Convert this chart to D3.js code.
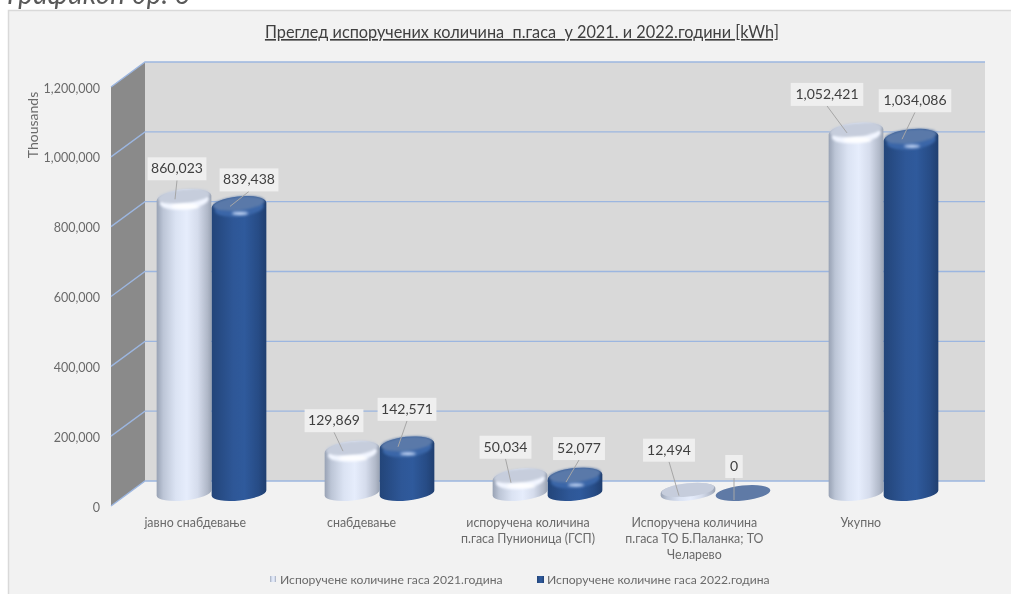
<!DOCTYPE html>
<html><head><meta charset="utf-8">
<script src="https://cdn.jsdelivr.net/npm/d3@7/dist/d3.min.js"></script>
<style>html,body{margin:0;padding:0;background:#fff}svg{display:block;filter:blur(0.35px)}text{font-family:Lato,"Open Sans","Noto Sans",sans-serif}</style>
</head><body><svg id="c" width="1011" height="594"></svg>
<script>
const categories = ["јавно снабдевање","снабдевање","испоручена количина\nп.гаса Пунионица (ГСП)","Испоручена количина\nп.гаса ТО Б.Паланка; ТО\nЧеларево","Укупно"];
const series2021 = [860023,129869,50034,12494,1052421];
const series2022 = [839438,142571,52077,0,1034086];
const seriesNames = ["Испоручене количине гаса 2021.година","Испоручене количине гаса 2022.година"];
const tickValues = [0,200000,400000,600000,800000,1000000,1200000];
const titleText = "Преглед испоручених количина  п.гаса  у 2021. и 2022.години [kWh]";
const pageCaption = "Графикон бр. 6";

const svg = d3.select("#c");
const W=1011,H=594;
const defs = svg.append("defs");
function grad(id,stops){const g=defs.append("linearGradient").attr("id",id).attr("x1",0).attr("x2",1).attr("y1",0).attr("y2",0);
  stops.forEach(s=>g.append("stop").attr("offset",s[0]).attr("stop-color",s[1]));}
grad("gW",[[0,"#98a2b4"],[.12,"#bcc5d6"],[.35,"#dbe3f3"],[.55,"#e6edfc"],[.75,"#d5dcec"],[.93,"#b0b8c8"],[1,"#9aa3b3"]]);
grad("gB",[[0,"#234579"],[.12,"#264a82"],[.4,"#2e5797"],[.6,"#2f5a9c"],[.85,"#274c86"],[1,"#203f70"]]);
defs.append("filter").attr("id","bl").attr("x","-50%").attr("y","-100%").attr("width","200%").attr("height","300%").append("feGaussianBlur").attr("stdDeviation",1.4);
defs.append("filter").attr("id","bl2").attr("x","-30%").attr("y","-50%").attr("width","160%").attr("height","200%").append("feGaussianBlur").attr("stdDeviation",0.9);

svg.append("rect").attr("x",8.5).attr("y",10.5).attr("width",W).attr("height",H).attr("fill","#f2f2f2").attr("stroke","#d9d9d9").attr("stroke-width",1.5);
svg.append("text").attr("x",7).attr("y",4).attr("font-size",28).attr("font-style","italic").attr("fill","#595959").text(pageCaption);

// geometry
const depthX=34, depthY=25, left=111, frontRight=951;
const y = d3.scaleLinear().domain([0,1200000]).range([506,87]);
const yBar = d3.scaleLinear().domain([0,1200000]).range([493,79]);
const xLabel = d3.scaleBand().domain(d3.range(categories.length)).range([112,944]);
const xBar = d3.scaleBand().domain(d3.range(categories.length)).range([127.5,967.5]);
const backL=left+depthX, backR=frontRight+depthX;

// walls
svg.append("rect").attr("x",backL).attr("y",y(1200000)-depthY).attr("width",backR-backL).attr("height",y(0)-y(1200000)).attr("fill","#d9d9d9");
svg.append("path").attr("d",`M${left},${y(1200000)}L${backL},${y(1200000)-depthY}L${backL},${y(0)-depthY}L${left},${y(0)}Z`).attr("fill","#8a8a8a");
// gridlines
svg.append("g").selectAll("path").data(tickValues).join("path")
 .attr("d",v=>`M${left},${y(v)}L${backL},${y(v)-depthY}L${backR},${y(v)-depthY}`)
 .attr("fill","none").attr("stroke","#9cb6e0").attr("stroke-width",1.4);

// axis
const ax = svg.append("g").attr("transform",`translate(${left-11},1)`).call(d3.axisLeft(y).tickValues(tickValues).tickFormat(d3.format(",")).tickSize(0).tickPadding(0));
ax.select(".domain").remove();
ax.selectAll("text").attr("font-size",12.5).attr("fill","#6a6a6a").style("font-family",'Lato,"Open Sans",sans-serif');
svg.append("text").attr("transform","translate(38,125) rotate(-90)").attr("text-anchor","middle").attr("font-size",14).attr("fill","#6a6a6a").text("Thousands");

svg.append("text").attr("x",522).attr("y",38).attr("text-anchor","middle").attr("font-size",16.3).attr("fill","#404040").attr("text-decoration","underline").style("white-space","pre").text(titleText);

// category labels
const cat = svg.append("g").selectAll("text").data(categories).join("text")
 .attr("text-anchor","middle").attr("font-size",12.4).attr("fill","#6a6a6a");
cat.each(function(d,i){
  d3.select(this).selectAll("tspan").data(d.split("\n")).join("tspan")
   .attr("x",xLabel(i)+xLabel.bandwidth()/2).attr("y",(t,j)=>527+j*16).text(t=>t);
});

// cylinders
const rx=27.5, ry=7.5, capRy=9, tilt=-6, rad=tilt*Math.PI/180, cs=Math.cos(rad), sn=Math.sin(rad);
function cylinder(g,cx,v,kind){
  const yb=yBar(0), yt=yBar(v)+2;
  const Lx=cx-rx*cs, Rx=cx+rx*cs, dy=rx*sn;
  const arc=(r,sweep,tx,ty)=>`A${rx},${r} ${tilt} 0 ${sweep} ${tx},${ty}`;
  const col = kind==="W"?{cap:"#c6cddc",hl:"#ffffff",zero:"#c7cfde"}:{cap:"#5a79a9",hl:"#d5e4ff",zero:"#5f7aa6"};
  if(v===0){
    g.append("ellipse").attr("cx",cx).attr("cy",yb).attr("rx",rx).attr("ry",ry).attr("transform",`rotate(${tilt} ${cx} ${yb})`).attr("fill",col.zero);
    return;
  }
  const h=yb-yt;
  if(h<10){ // very flat disc
    g.append("path").attr("d",`M${Lx},${yt-dy}${arc(ry,1,Rx,yt+dy)}L${Rx},${yb+dy}${arc(ry,1,Lx,yb-dy)}Z`).attr("fill",`url(#g${kind})`);
    g.append("ellipse").attr("cx",cx).attr("cy",yt-0.8).attr("rx",rx-1).attr("ry",ry-0.8).attr("transform",`rotate(${tilt} ${cx} ${yt})`).attr("fill",col.cap);
    return;
  }
  g.append("path").attr("d",`M${Lx},${yt-dy}${arc(capRy,1,Rx,yt+dy)}L${Rx},${yb+dy}${arc(ry,1,Lx,yb-dy)}Z`).attr("fill",`url(#g${kind})`);
  // shoulder, cap and highlight
  g.append("ellipse").attr("cx",cx).attr("cy",yt+3).attr("rx",rx-3).attr("ry",capRy-1).attr("transform",`rotate(${tilt} ${cx} ${yt})`).attr("fill",kind==="W"?"#f1f5ff":"#3a66a8").attr("filter","url(#bl2)");
  g.append("ellipse").attr("cx",cx).attr("cy",yt-2).attr("rx",rx-1.5).attr("ry",capRy-2).attr("transform",`rotate(${tilt} ${cx} ${yt})`).attr("fill",col.cap).attr("filter","url(#bl2)");
  g.append("ellipse").attr("cx",cx+1).attr("cy",yt+capRy-1).attr("rx",kind==="W"?14:8).attr("ry",kind==="W"?2.6:1.5).attr("fill",col.hl).attr("filter","url(#bl)");
}
function barCenter(i,k){return xBar(i)+xBar.bandwidth()/2+(k===0?-27.5:27.5);}
const gBars=svg.append("g");
[[series2021,"W",0],[series2022,"B",1]].forEach(([vals,kind,k])=>{
  vals.forEach((v,i)=>cylinder(gBars,barCenter(i,k),v,kind));
});

// data labels: leader from the box to a point left of each cylinder's centre
const fmt=d3.format(",");
const gLab=svg.append("g");
function label(i,k,v,dx,dyBox){
  const cx=barCenter(i,k), yt=yBar(v);
  const text=fmt(v);
  const w=text.length*6.9+10.5, h=23;
  const bx=cx+dx-w/2, by=yt-dyBox-h;
  const endY = yBar(0)-yt<25 ? yt+7 : yt+3;
  gLab.append("path").attr("d",`M${cx+dx},${by+h}L${cx-9},${endY}`).attr("stroke","#a6a6a6").attr("stroke-width",1).attr("fill","none");
  gLab.append("rect").attr("x",bx).attr("y",by).attr("width",w).attr("height",h).attr("fill","#efefef");
  gLab.append("text").attr("x",bx+w/2).attr("y",by+16).attr("text-anchor","middle").attr("font-size",14).attr("fill","#404040").text(text);
}
series2021.forEach((v,i)=>label(i,0,v,[-7,-18,-14.5,-19,-29][i],[16,16,17,27,24][i]));
series2022.forEach((v,i)=>label(i,1,v,[10,0,4,-9,4][i],[12,23,15,15,24][i]));

// legend
const lgX=[270,537], lgT=[280,547];
seriesNames.forEach((n,k)=>{
  svg.append("rect").attr("x",lgX[k]).attr("y",576).attr("width",k?7:6).attr("height",k?7:6).attr("fill",k?"url(#gB)":"url(#gW)");
  svg.append("text").attr("x",lgT[k]).attr("y",584).attr("font-size",12.15).attr("fill","#6a6a6a").text(n);
});
</script></body></html>
